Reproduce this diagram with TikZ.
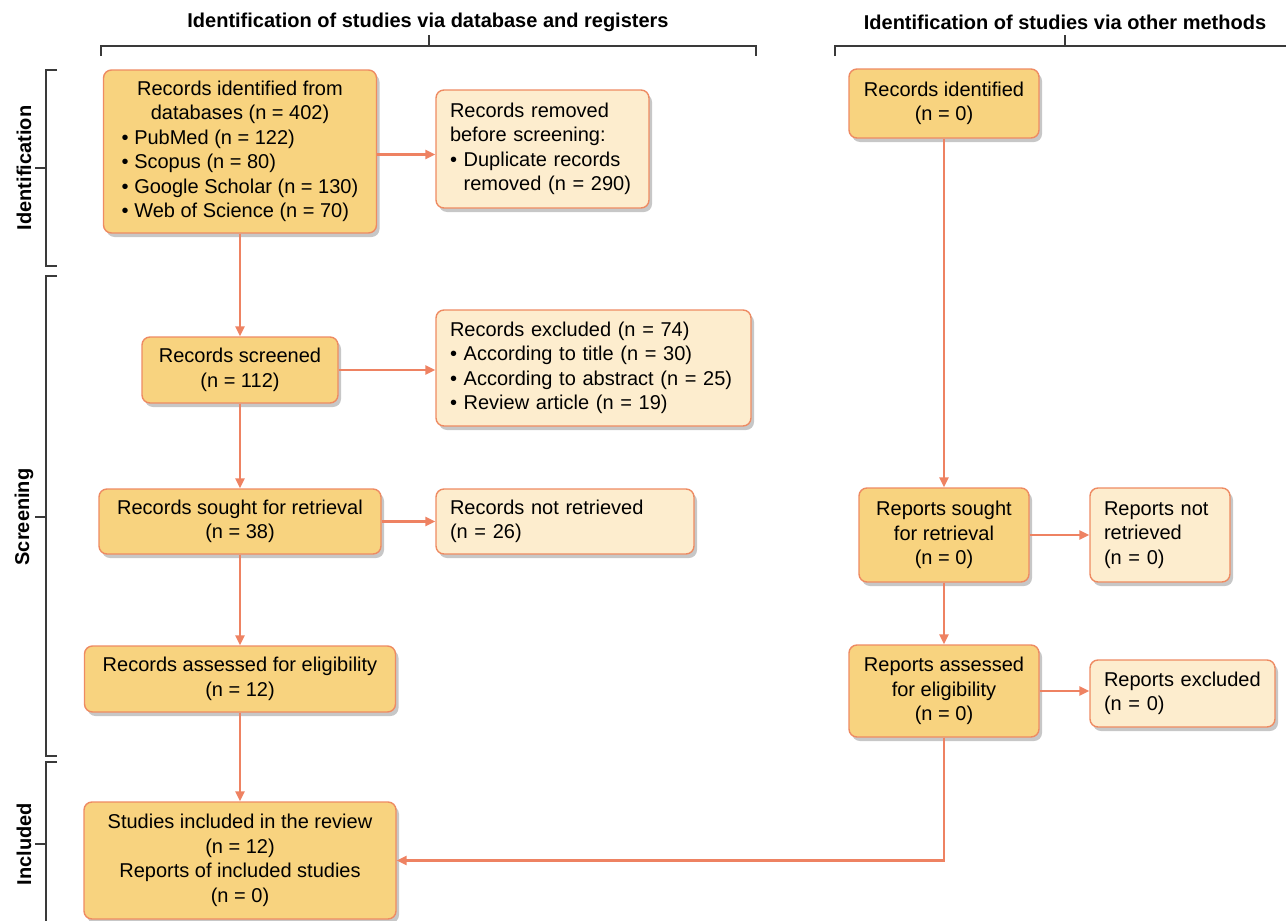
\documentclass[tikz,border=0pt]{standalone}
\usepackage{fontspec}
\setmainfont{Liberation Sans}
\usepackage{tikz}
\usetikzlibrary{arrows.meta,shadows}

\definecolor{boxdark}{HTML}{F8D37F}
\definecolor{boxlight}{HTML}{FDEDCE}
\definecolor{boxedge}{HTML}{EE8B62}
\definecolor{arrowline}{HTML}{EE8262}
\definecolor{bracketline}{HTML}{3A3A3A}

\tikzset{
	darkbox/.style={draw=boxedge, fill=boxdark, line width=0.7pt, rounded corners=4pt, align=center, inner sep=0pt,
		font=\fontsize{10}{12.25}\selectfont,
		drop shadow={shadow xshift=1.5pt, shadow yshift=-2pt, fill=black, opacity=0.22}},
	lightbox/.style={darkbox, fill=boxlight, align=left, inner xsep=7pt},
	flowarrow/.style={draw=arrowline, line width=1.2pt, -{Triangle[length=5pt,width=4.5pt]}},
	bracket/.style={draw=bracketline, line width=0.6pt},
	heading/.style={font=\bfseries\fontsize{10}{12}\selectfont},
}

\begin{document}
\begin{tikzpicture}[x=0.5pt,y=-0.5pt]

	\useasboundingbox (0,0) rectangle (1286,921);

	% headings and brackets
	\node[heading] (dbtitle) at (428,22) {Identification of studies via database and registers};
	\node[heading] (othertitle) at (1065,22) {Identification of studies via other methods};
	\draw[bracket] (101,56) -- (101,46) -- (756,46) -- (756,56);
	\draw[bracket] (429,46) -- (429,35);
	\draw[bracket] (835,56) -- (835,46) -- (1286,46);
	\draw[bracket] (1065,46) -- (1065,35);

	\node[heading,rotate=90] (idlabel) at (24,168) {Identification};
	\node[heading,rotate=90] (screenlabel) at (24,517) {Screening};
	\node[heading,rotate=90] (inclabel) at (24,844) {Included};
	\draw[bracket] (57,70) -- (46,70) -- (46,266) -- (57,266);
	\draw[bracket] (46,168) -- (35,168);
	\draw[bracket] (57,276) -- (46,276) -- (46,756) -- (57,756);
	\draw[bracket] (46,517) -- (35,517);
	\draw[bracket] (57,762) -- (46,762) -- (46,921);
	\draw[bracket] (46,844) -- (35,844);

	% database and registers
	\node[darkbox, minimum width=136.5pt, minimum height=81.5pt] (dbfound) at (240,151.5)
		{\begin{tabular}{@{}l@{}}
		\multicolumn{1}{@{}c@{}}{Records identified from}\\
		\multicolumn{1}{@{}c@{}}{databases (n = 402)}\\
		• PubMed (n = 122)\\
		• Scopus (n = 80)\\
		• Google Scholar (n = 130)\\
		• Web of Science (n = 70)
		\end{tabular}};
	\node[lightbox, text width=92.5pt, minimum height=59pt] (dbremoved) at (542.5,149)
		{Records removed\\before screening:\\• Duplicate records\\\phantom{• }removed (n = 290)};
	\node[darkbox, minimum width=98pt, minimum height=33pt] (dbscreened) at (240,370)
		{Records screened\\(n = 112)};
	\node[lightbox, text width=143.5pt, minimum height=58pt] (dbexcluded) at (593.5,368)
		{Records excluded (n = 74)\\• According to title (n = 30)\\• According to abstract (n = 25)\\• Review article (n = 19)};
	\node[darkbox, minimum width=141pt, minimum height=32.5pt] (dbsought) at (240,521.5)
		{Records sought for retrieval\\(n = 38)};
	\node[lightbox, text width=115pt, minimum height=32.5pt] (dbnotret) at (565,521.5)
		{Records not retrieved\\(n = 26)};
	\node[darkbox, minimum width=155.5pt, minimum height=33pt] (dbassessed) at (240,679)
		{Records assessed for eligibility\\(n = 12)};
	\node[darkbox, minimum width=156pt, minimum height=58.5pt] (included) at (240,860.5)
		{Studies included in the review\\(n = 12)\\Reports of included studies\\(n = 0)};

	% other methods
	\node[darkbox, minimum width=95pt, minimum height=34.5pt] (otherfound) at (944,103.5)
		{Records identified\\(n = 0)};
	\node[darkbox, minimum width=85pt, minimum height=47pt] (othersought) at (944,535)
		{Reports sought\\for retrieval\\(n = 0)};
	\node[lightbox, text width=56pt, minimum height=47pt] (othernotret) at (1160,535)
		{Reports not\\retrieved\\(n = 0)};
	\node[darkbox, minimum width=95pt, minimum height=46pt] (otherassessed) at (944,691)
		{Reports assessed\\for eligibility\\(n = 0)};
	\node[lightbox, text width=78.5pt, minimum height=33.5pt] (otherexcluded) at (1182.5,693.5)
		{Reports excluded\\(n = 0)};

	% arrows
	\draw[flowarrow] ([yshift=-1.5pt]dbfound.east) -- ([yshift=-1.5pt]dbfound.east -| dbremoved.west);
	\draw[flowarrow] (dbfound) -- (dbscreened);
	\draw[flowarrow] (dbscreened.east) -- (dbscreened.east -| dbexcluded.west);
	\draw[flowarrow] (dbscreened) -- (dbsought);
	\draw[flowarrow] (dbsought) -- (dbnotret);
	\draw[flowarrow] (dbsought) -- (dbassessed);
	\draw[flowarrow] (dbassessed) -- (included);
	\draw[flowarrow] (otherfound) -- (othersought);
	\draw[flowarrow] (othersought) -- (othernotret);
	\draw[flowarrow] (othersought) -- (otherassessed);
	\draw[flowarrow] (otherassessed.east) -- (otherassessed.east -| otherexcluded.west);
	\draw[flowarrow] (otherassessed.south) |- (included.east);

\end{tikzpicture}
\end{document}
